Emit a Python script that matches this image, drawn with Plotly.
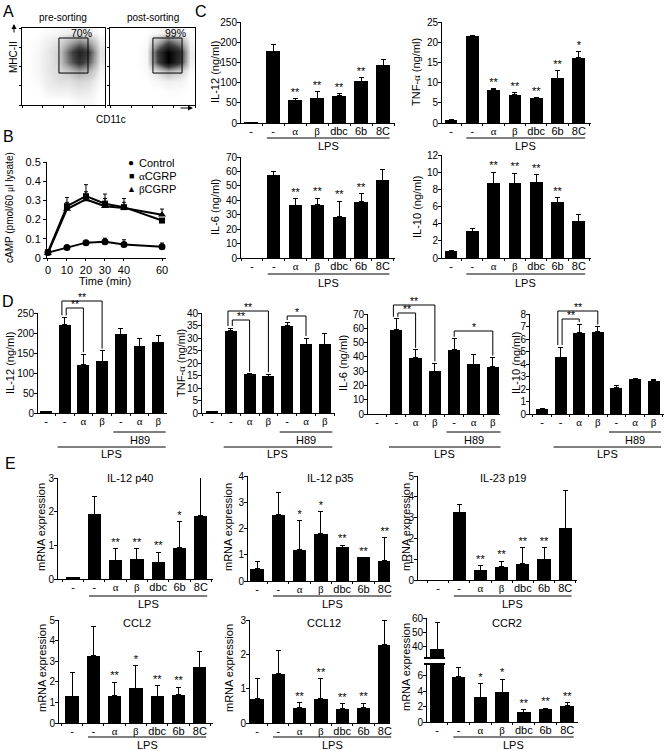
import plotly.graph_objects as go

W, H = 670, 751
FONT = "Liberation Sans, Arial, Helvetica, sans-serif"


def gk(c):
    return f'<span style="font-family:Liberation Serif">{c}</span>'


# ---------------------------------------------------------------- data
# Panel A: flow cytometry density (estimated), log decades 0..4
FLOW_BINS = [0.25, 0.75, 1.25, 1.75, 2.25, 2.75, 3.25, 3.75]
PRE_DENSITY = [
    [0, 0, 0, 0, 0, 0.2, 0.2, 0],
    [0, 0, 0.3, 0.4, 0.4, 0.6, 0.5, 0],
    [0, 0.1, 0.5, 0.8, 0.8, 1.2, 0.9, 0.1],
    [0, 0.2, 0.6, 1.0, 1.8, 3.0, 2.2, 0.3],
    [0, 0.2, 0.6, 1.2, 4.5, 7.0, 5.0, 0.6],
    [0, 0.2, 0.6, 1.2, 5.0, 8.0, 6.0, 0.8],
    [0, 0.1, 0.4, 0.8, 2.5, 4.0, 3.0, 0.4],
    [0, 0, 0.1, 0.2, 0.4, 0.6, 0.4, 0],
]
POST_DENSITY = [
    [0, 0, 0, 0, 0, 0, 0, 0],
    [0, 0, 0, 0, 0, 0.1, 0.1, 0],
    [0, 0, 0, 0, 0.2, 0.4, 0.3, 0],
    [0, 0, 0, 0.1, 1.0, 2.5, 1.5, 0.1],
    [0, 0, 0, 0.2, 6.0, 10, 7.0, 0.4],
    [0, 0, 0, 0.2, 6.5, 10, 7.5, 0.5],
    [0, 0, 0, 0.1, 2.5, 5.5, 3.5, 0.2],
    [0, 0, 0, 0, 0.2, 0.5, 0.3, 0],
]
PRE_GATE = [1.78, 3.18, 1.66, 3.48]
POST_GATE = [2.02, 3.39, 1.66, 3.48]
PRE_PCT, POST_PCT = "70%", "99%"

# Panel B: cAMP time course
TIME = [0, 10, 20, 30, 40, 60]
CAMP_CONTROL = [0.028, 0.055, 0.08, 0.085, 0.07, 0.058]
CAMP_CONTROL_ERR = [0.005, 0.005, 0.01, 0.018, 0.025, 0.02]
CAMP_ALPHA = [0.03, 0.27, 0.322, 0.283, 0.265, 0.195]
CAMP_ALPHA_ERR = [0.01, 0.045, 0.06, 0.05, 0.045, 0.01]
CAMP_BETA = [0.025, 0.255, 0.305, 0.27, 0.26, 0.225]
CAMP_BETA_ERR = [0.01, 0.035, 0.04, 0.04, 0.03, 0.03]

# Panel C
LAB_C = ['-', '-', gk('α'), gk('β'), 'dbc', '6b', '8C']
C_IL12 = [1, 178, 56, 61, 67, 103, 143]
C_IL12_ERR = [0, 16, 5, 16, 5, 10, 14]
C_IL12_STARS = ['', '', '**', '**', '**', '**', '']
C_TNF = [0.8, 21.5, 8.2, 7.0, 6.2, 11.1, 16.2]
C_TNF_ERR = [0, 0.2, 0.3, 0.5, 0.1, 1.8, 1.4]
C_TNF_STARS = ['', '', '**', '**', '**', '**', '*']
C_IL6 = [0, 57.5, 36.5, 37, 28.5, 39, 54]
C_IL6_ERR = [0, 2.8, 4.5, 4.5, 11, 5.5, 7.5]
C_IL6_STARS = ['', '', '**', '**', '**', '**', '']
C_IL10 = [0.85, 3.1, 8.7, 8.7, 8.8, 6.5, 4.3]
C_IL10_ERR = [0, 0.35, 1.3, 1.2, 0.9, 0.5, 0.8]
C_IL10_STARS = ['', '', '**', '**', '**', '**', '']

# Panel D
LAB_D = ['-', '-', gk('α'), gk('β'), '-', gk('α'), gk('β')]
D_IL12 = [3, 221, 121, 129, 197, 167, 177]
D_IL12_ERR = [0, 18, 26, 27, 15, 19, 17]
D_TNF = [0.6, 33, 15.5, 14.8, 35, 27.5, 27.5]
D_TNF_ERR = [0, 1, 0.2, 0.7, 1.4, 2.5, 4.2]
D_IL6 = [0, 58.9, 39.5, 30, 44.9, 35, 33.2]
D_IL6_ERR = [0, 7.7, 5.4, 5.5, 7.7, 6.8, 6.3]
D_IL10 = [0.38, 4.55, 6.5, 6.6, 2.1, 2.8, 2.65]
D_IL10_ERR = [0.03, 0.8, 0.7, 0.4, 0.15, 0.05, 0.1]
# significance brackets: (bar i, bar j, label)
D_IL12_SIG = [(1, 3, '**'), (1, 2, '**')]
D_TNF_SIG = [(1, 3, '**'), (1, 2, '**'), (4, 5, '*')]
D_IL6_SIG = [(1, 3, '**'), (1, 2, '**'), (4, 6, '*')]
D_IL10_SIG = [(1, 3, '**'), (1, 2, '**')]

# Panel E
E_P40 = [0.03, 1.93, 0.56, 0.58, 0.5, 0.93, 1.88]
E_P40_ERR = [0.01, 0.52, 0.34, 0.33, 0.3, 0.77, 1.47]
E_P40_STARS = ['', '', '**', '**', '**', '*', '']
E_P35 = [0.46, 2.52, 1.19, 1.8, 1.28, 0.9, 0.78]
E_P35_ERR = [0.28, 0.85, 1.1, 0.85, 0.09, 0.0, 0.88]
E_P35_STARS = ['', '', '*', '*', '**', '**', '**']
E_P19 = [0, 3.25, 0.48, 0.64, 0.77, 1.0, 2.48]
E_P19_ERR = [0, 0.38, 0.22, 0.27, 0.78, 0.57, 1.82]
E_P19_STARS = ['', '', '**', '**', '**', '**', '']
E_CCL2 = [1.29, 3.27, 1.32, 1.69, 1.29, 1.37, 2.71]
E_CCL2_ERR = [1.18, 1.43, 0.66, 1.1, 0.51, 0.37, 0.74]
E_CCL2_STARS = ['', '', '**', '*', '**', '**', '']
E_CCL12 = [0.7, 1.44, 0.44, 0.71, 0.42, 0.44, 2.28]
E_CCL12_ERR = [0.61, 0.66, 0.16, 0.58, 0.14, 0.14, 0.72]
E_CCL12_STARS = ['', '', '**', '**', '**', '**', '']
E_CCR2 = [38.5, 5.9, 3.2, 3.9, 1.3, 1.7, 2.1]
E_CCR2_ERR = [18.5, 1.2, 1.8, 1.7, 0.3, 0.1, 0.4]
E_CCR2_STARS = ['', '', '*', '*', '**', '**', '**']

# ---------------------------------------------------------------- helpers
fig = go.Figure()
SPECS = {}
_n = [0]


def new_axes(name, l, r, t, b, xr, yr, xkw=None, ykw=None):
    _n[0] += 1
    n = _n[0]
    sx = '' if n == 1 else str(n)
    xa, ya = 'x' + sx, 'y' + sx
    xd = dict(domain=[l / W, r / W], range=xr, anchor=ya, showgrid=False,
              zeroline=False, showline=True, linecolor='black', linewidth=1,
              fixedrange=True)
    yd = dict(domain=[1 - b / H, 1 - t / H], range=yr, anchor=xa,
              showgrid=False, zeroline=False, showline=True,
              linecolor='black', linewidth=1, fixedrange=True)
    xd.update(xkw or {})
    yd.update(ykw or {})
    fig.update_layout(**{'xaxis' + sx: xd, 'yaxis' + sx: yd})
    SPECS[name] = (l, r, t, b, xr, yr)
    return xa, ya


def data_px(name, xv, yv):
    l, r, t, b, xr, yr = SPECS[name]
    return (l + (xv - xr[0]) / (xr[1] - xr[0]) * (r - l),
            b - (yv - yr[0]) / (yr[1] - yr[0]) * (b - t))


def text(xp, yp, s, size=11, angle=0, xanchor='center', yanchor='middle'):
    fig.add_annotation(x=xp / W, y=1 - yp / H, xref='paper', yref='paper',
                       text=s, showarrow=False, textangle=angle,
                       xanchor=xanchor, yanchor=yanchor,
                       font=dict(size=size, family=FONT, color='black'))


def line(x0, y0, x1, y1, w=1, color='black'):
    fig.add_shape(type='line', xref='paper', yref='paper', x0=x0 / W,
                  x1=x1 / W, y0=1 - y0 / H, y1=1 - y1 / H,
                  line=dict(color=color, width=w))


def arrow(x, y, dx, dy):
    fig.add_annotation(x=x / W, y=1 - y / H, xref='paper', yref='paper',
                       ax=dx, ay=dy, axref='pixel', ayref='pixel',
                       showarrow=True, arrowhead=2, arrowsize=1, arrowwidth=1,
                       arrowcolor='black', text='')


def bar_chart(name, l, r, t, b, first, sp, yr, yticks, values, errs, labels,
              stars=None, bar_w=0.62, show_x=True):
    n = len(values)
    xr = [(l - first) / sp, (r - first) / sp]
    xkw = dict(tickmode='array', tickvals=list(range(n)), ticktext=labels,
               ticks='', tickfont=dict(size=11), ticklabelstandoff=-2,
               minor=dict(ticks='outside', ticklen=2, tick0=0.5, dtick=1,
                          tickcolor='black', tickwidth=1))
    if not show_x:
        xkw = dict(visible=False)
    ykw = dict(tickmode='array', tickvals=yticks, ticks='outside', ticklen=3,
               tickwidth=1, tickcolor='black', tickfont=dict(size=10),
               ticklabelstandoff=-2)
    xa, ya = new_axes(name, l, r, t, b, xr, yr, xkw, ykw)
    fig.add_trace(go.Bar(
        x=list(range(n)), y=values, width=bar_w,
        marker=dict(color='black', line=dict(width=0)),
        error_y=dict(type='data', symmetric=False, array=errs,
                     arrayminus=[0] * n, color='black', thickness=1, width=2.5),
        xaxis=xa, yaxis=ya, hoverinfo='skip', showlegend=False))
    if stars:
        idx = [i for i, s in enumerate(stars) if s]
        fig.add_trace(go.Scatter(
            x=idx, y=[values[i] + errs[i] for i in idx],
            text=[stars[i] for i in idx], mode='text',
            textposition='top center',
            textfont=dict(size=11, family=FONT, color='black'),
            cliponaxis=False, xaxis=xa, yaxis=ya, hoverinfo='skip',
            showlegend=False))
    return xa, ya


def group(name, i0, i1, ypx_line, label, ypx_text):
    x0, _ = data_px(name, i0, 0)
    x1, _ = data_px(name, i1, 0)
    line(x0, ypx_line, x1, ypx_line)
    text((x0 + x1) / 2, ypx_text, label, 11)


def bracket(name, i, j, level, label, values, errs, di=0.0):
    xi, yi = data_px(name, i + di, values[i] + errs[i])
    xj, yj = data_px(name, j, values[j] + errs[j])
    line(xi, yi - 2, xi, level)
    line(xi, level, xj, level)
    line(xj, level, xj, yj - 2)
    text((xi + xj) / 2, level - 4, label, 10.5)


# ---------------------------------------------------------------- panel A
flow_scale = [[0, 'white'], [0.02, '#f6f6f6'], [0.1, '#dadada'],
              [0.3, '#a2a2a2'], [0.6, '#404040'], [1, 'black']]
for name, l, r, dens, gate, pct, ttl in [
        ('A1', 22, 105, PRE_DENSITY, PRE_GATE, PRE_PCT, 'pre-sorting'),
        ('A2', 110, 195, POST_DENSITY, POST_GATE, POST_PCT, 'post-sorting')]:
    akw = dict(mirror=True, ticks='outside', ticklen=2, tickwidth=1,
               tickcolor='black', tickvals=[0, 1, 2, 3, 4],
               showticklabels=False)
    xa, ya = new_axes(name, l, r, 28, 105, [0, 4], [0, 4], akw, dict(akw))
    fig.add_trace(go.Heatmap(x=FLOW_BINS, y=FLOW_BINS, z=dens, zmin=0,
                             zmax=10, colorscale=flow_scale, zsmooth='best',
                             showscale=False, xaxis=xa, yaxis=ya,
                             hoverinfo='skip'))
    fig.add_shape(type='rect', xref=xa, yref=ya, x0=gate[0], x1=gate[1],
                  y0=gate[2], y1=gate[3], line=dict(color='black', width=1))
    gx, gy = data_px(name, gate[1], gate[3])
    text(gx + 6, gy - 5, pct, 10.5, xanchor='right')
    text((l + r) / 2, 17, ttl, 10)

text(13, 57, 'MHC-II', 10, angle=-90)
text(111, 120, 'CD11c', 10)
arrow(14, 24, 0, 10)
arrow(193, 108, -14, 0)

# ---------------------------------------------------------------- panel B
xa, ya = new_axes('B', 47, 165.8, 162, 258, [-0.5, 62], [0, 0.5],
                  dict(tickmode='array', tickvals=TIME, ticks='outside',
                       ticklen=2, tickcolor='black', tickfont=dict(size=11)),
                  dict(tickmode='array', tickvals=[0, 0.1, 0.2, 0.3, 0.4, 0.5],
                       ticktext=['0', '0.1', '0.2', '0.3', '0.4', '0.5'],
                       ticks='outside', ticklen=3, tickcolor='black',
                       tickfont=dict(size=11)))
for vals, errs, sym, size in [(CAMP_CONTROL, CAMP_CONTROL_ERR, 'circle', 7),
                              (CAMP_ALPHA, CAMP_ALPHA_ERR, 'square', 6),
                              (CAMP_BETA, CAMP_BETA_ERR, 'triangle-up', 7)]:
    fig.add_trace(go.Scatter(
        x=TIME, y=vals, mode='lines+markers',
        line=dict(color='black', width=2),
        marker=dict(symbol=sym, size=size, color='black'),
        error_y=dict(type='data', symmetric=False, array=errs,
                     arrayminus=[0] * len(errs), color='black', thickness=1,
                     width=2),
        cliponaxis=False, xaxis=xa, yaxis=ya, hoverinfo='skip',
        showlegend=False))
text(10, 208, 'cAMP (pmol/60 ' + gk('μ') + 'l lysate)', 10, angle=-90)
text(105, 281, 'Time (min)', 11)
for yy, sym, ssz, lab in [(163, '●', 10, 'Control'),
                          (176, '■', 9, gk('α') + 'CGRP'),
                          (189, '▲', 9, gk('β') + 'CGRP')]:
    text(131, yy, sym, ssz)
    text(137, yy, lab, 11, xanchor='left')

# ---------------------------------------------------------------- panel C
bar_chart('C1', 241, 395, 22, 123, 251, 22, [0, 250],
          [0, 50, 100, 150, 200, 250], C_IL12, C_IL12_ERR, LAB_C,
          C_IL12_STARS, 0.6)
bar_chart('C2', 442, 591, 22, 123, 451, 21.3, [0, 25],
          [0, 5, 10, 15, 20, 25], C_TNF, C_TNF_ERR, LAB_C, C_TNF_STARS, 0.6)
bar_chart('C3', 241, 395, 157, 258, 252, 21.8, [0, 70],
          [0, 10, 20, 30, 40, 50, 60, 70], C_IL6, C_IL6_ERR, LAB_C,
          C_IL6_STARS, 0.6)
bar_chart('C4', 442, 591, 155, 258, 451, 21.3, [0, 12],
          [0, 2, 4, 6, 8, 10, 12], C_IL10, C_IL10_ERR, LAB_C, C_IL10_STARS,
          0.6)
for nm in ['C1', 'C2']:
    group(nm, 0.72, 6.3, 138, 'LPS', 146)
for nm in ['C3', 'C4']:
    group(nm, 0.72, 6.3, 274, 'LPS', 283)
text(215, 72, 'IL-12 (ng/ml)', 11, angle=-90)
text(416, 72, 'TNF-' + gk('α') + ' (ng/ml)', 11, angle=-90)
text(215, 207, 'IL-6 (ng/ml)', 11, angle=-90)
text(417, 207, 'IL-10 (ng/ml)', 11, angle=-90)

# ---------------------------------------------------------------- panel D
D_SPECS = [
    ('D1', 38, 167, 313, 413, 46, 18.7, [0, 250], [0, 50, 100, 150, 200, 250],
     D_IL12, D_IL12_ERR, D_IL12_SIG, [301, 308], 'IL-12 (ng/ml)', 10),
    ('D2', 202, 335, 313, 413, 212, 18.8, [0, 40],
     [0, 5, 10, 15, 20, 25, 30, 35, 40], D_TNF, D_TNF_ERR, D_TNF_SIG,
     [311, 320, 316], 'TNF-' + gk('α') + ' (ng/ml)', 181),
    ('D3', 368, 500, 314, 414, 377, 19.3, [0, 70],
     [0, 10, 20, 30, 40, 50, 60, 70], D_IL6, D_IL6_ERR, D_IL6_SIG,
     [305, 313, 331], 'IL-6 (ng/ml)', 343),
    ('D4', 530, 664, 314, 414, 542, 18.6, [0, 8], [0, 1, 2, 3, 4, 5, 6, 7, 8],
     D_IL10, D_IL10_ERR, D_IL10_SIG, [311, 319], 'IL-10 (ng/ml)', 516),
]
for (nm, l, r, t, b, first, sp, yr, yt, vals, errs, sig, levels, ylab,
     ylx) in D_SPECS:
    bar_chart(nm, l, r, t, b, first, sp, yr, yt, vals, errs, LAB_D, None,
              0.64)
    group(nm, 3.6, 6.4, 432, 'H89', 440)
    group(nm, 0.62, 6.4, 447, 'LPS', 454)
    for k, (i, j, lab) in enumerate(sig):
        di = -0.15 if (i == 1 and j == 3) else (0.08 if i == 1 else 0.0)
        bracket(nm, i, j, levels[k], lab, vals, errs, di)
    text(ylx, 363, ylab, 11, angle=-90)

# ---------------------------------------------------------------- panel E
E_SPECS = [
    ('E1', 58, 213, 478, 579, 73, 21.3, [0, 3], [0, 1, 2, 3], E_P40,
     E_P40_ERR, E_P40_STARS, 'IL-12 p40', 130, 478, 41, 527, 596, 604),
    ('E2', 248, 390, 476, 581, 257, 21.3, [0, 4], [0, 1, 2, 3, 4], E_P35,
     E_P35_ERR, E_P35_STARS, 'IL-12 p35', 330, 478, 228, 527, 596, 604),
    ('E3', 418, 577, 476, 580, 438, 21.2, [0, 5], [0, 1, 2, 3, 4, 5], E_P19,
     E_P19_ERR, E_P19_STARS, 'IL-23 p19', 503, 478, 406, 527, 596, 604),
    ('E4', 59, 213, 620, 723, 72, 21.3, [0, 5], [0, 1, 2, 3, 4, 5], E_CCL2,
     E_CCL2_ERR, E_CCL2_STARS, 'CCL2', 137, 623, 42, 668, 737, 745),
    ('E5', 250, 390, 620, 723, 257, 21.3, [0, 3], [0, 1, 2, 3], E_CCL12,
     E_CCL12_ERR, E_CCL12_STARS, 'CCL12', 324, 623, 229, 668, 737, 745),
]
for (nm, l, r, t, b, first, sp, yr, yt, vals, errs, stars, ttl, tx, ty, ylx,
     yly, lpsl, lpst) in E_SPECS:
    bar_chart(nm, l, r, t, b, first, sp, yr, yt, vals, errs, LAB_C, stars,
              0.62)
    group(nm, 0.75, 6.3, lpsl, 'LPS', lpst)
    text(tx, ty, ttl, 11)
    text(ylx, yly, 'mRNA expression', 11, angle=-90)

# CCR2 with broken axis
bar_chart('E6', 427, 578, 664, 722, 437, 21.7, [0, 7.56], [0, 2, 4, 6],
          E_CCR2, E_CCR2_ERR, LAB_C, E_CCR2_STARS, 0.62)
bar_chart('E6u', 427, 578, 618, 658, 437, 21.7, [32.4, 60], [40, 50, 60],
          E_CCR2, E_CCR2_ERR, LAB_C, None, 0.62, show_x=False)
group('E6', 0.75, 6.3, 737, 'LPS', 745)
text(507, 623, 'CCR2', 11)
text(406, 667, 'mRNA expression', 11, angle=-90)
line(424, 658, 445, 658, w=2)
line(424, 664, 445, 664, w=2)

# ---------------------------------------------------------------- panel letters
for lab, x, y in [('A', 8, 12), ('B', 8, 136), ('C', 201, 11), ('D', 8, 301),
                  ('E', 10, 463)]:
    text(x, y, lab, 16)

fig.update_layout(width=W, height=H, margin=dict(l=0, r=0, t=0, b=0),
                  paper_bgcolor='white', plot_bgcolor='white',
                  showlegend=False, bargap=0, template='none',
                  font=dict(family=FONT, size=10.5, color='black'))
fig.write_html("out.html", config={'displayModeBar': False},
               post_script="document.body.style.margin='0px';"
                           "document.body.style.overflow='hidden';")
